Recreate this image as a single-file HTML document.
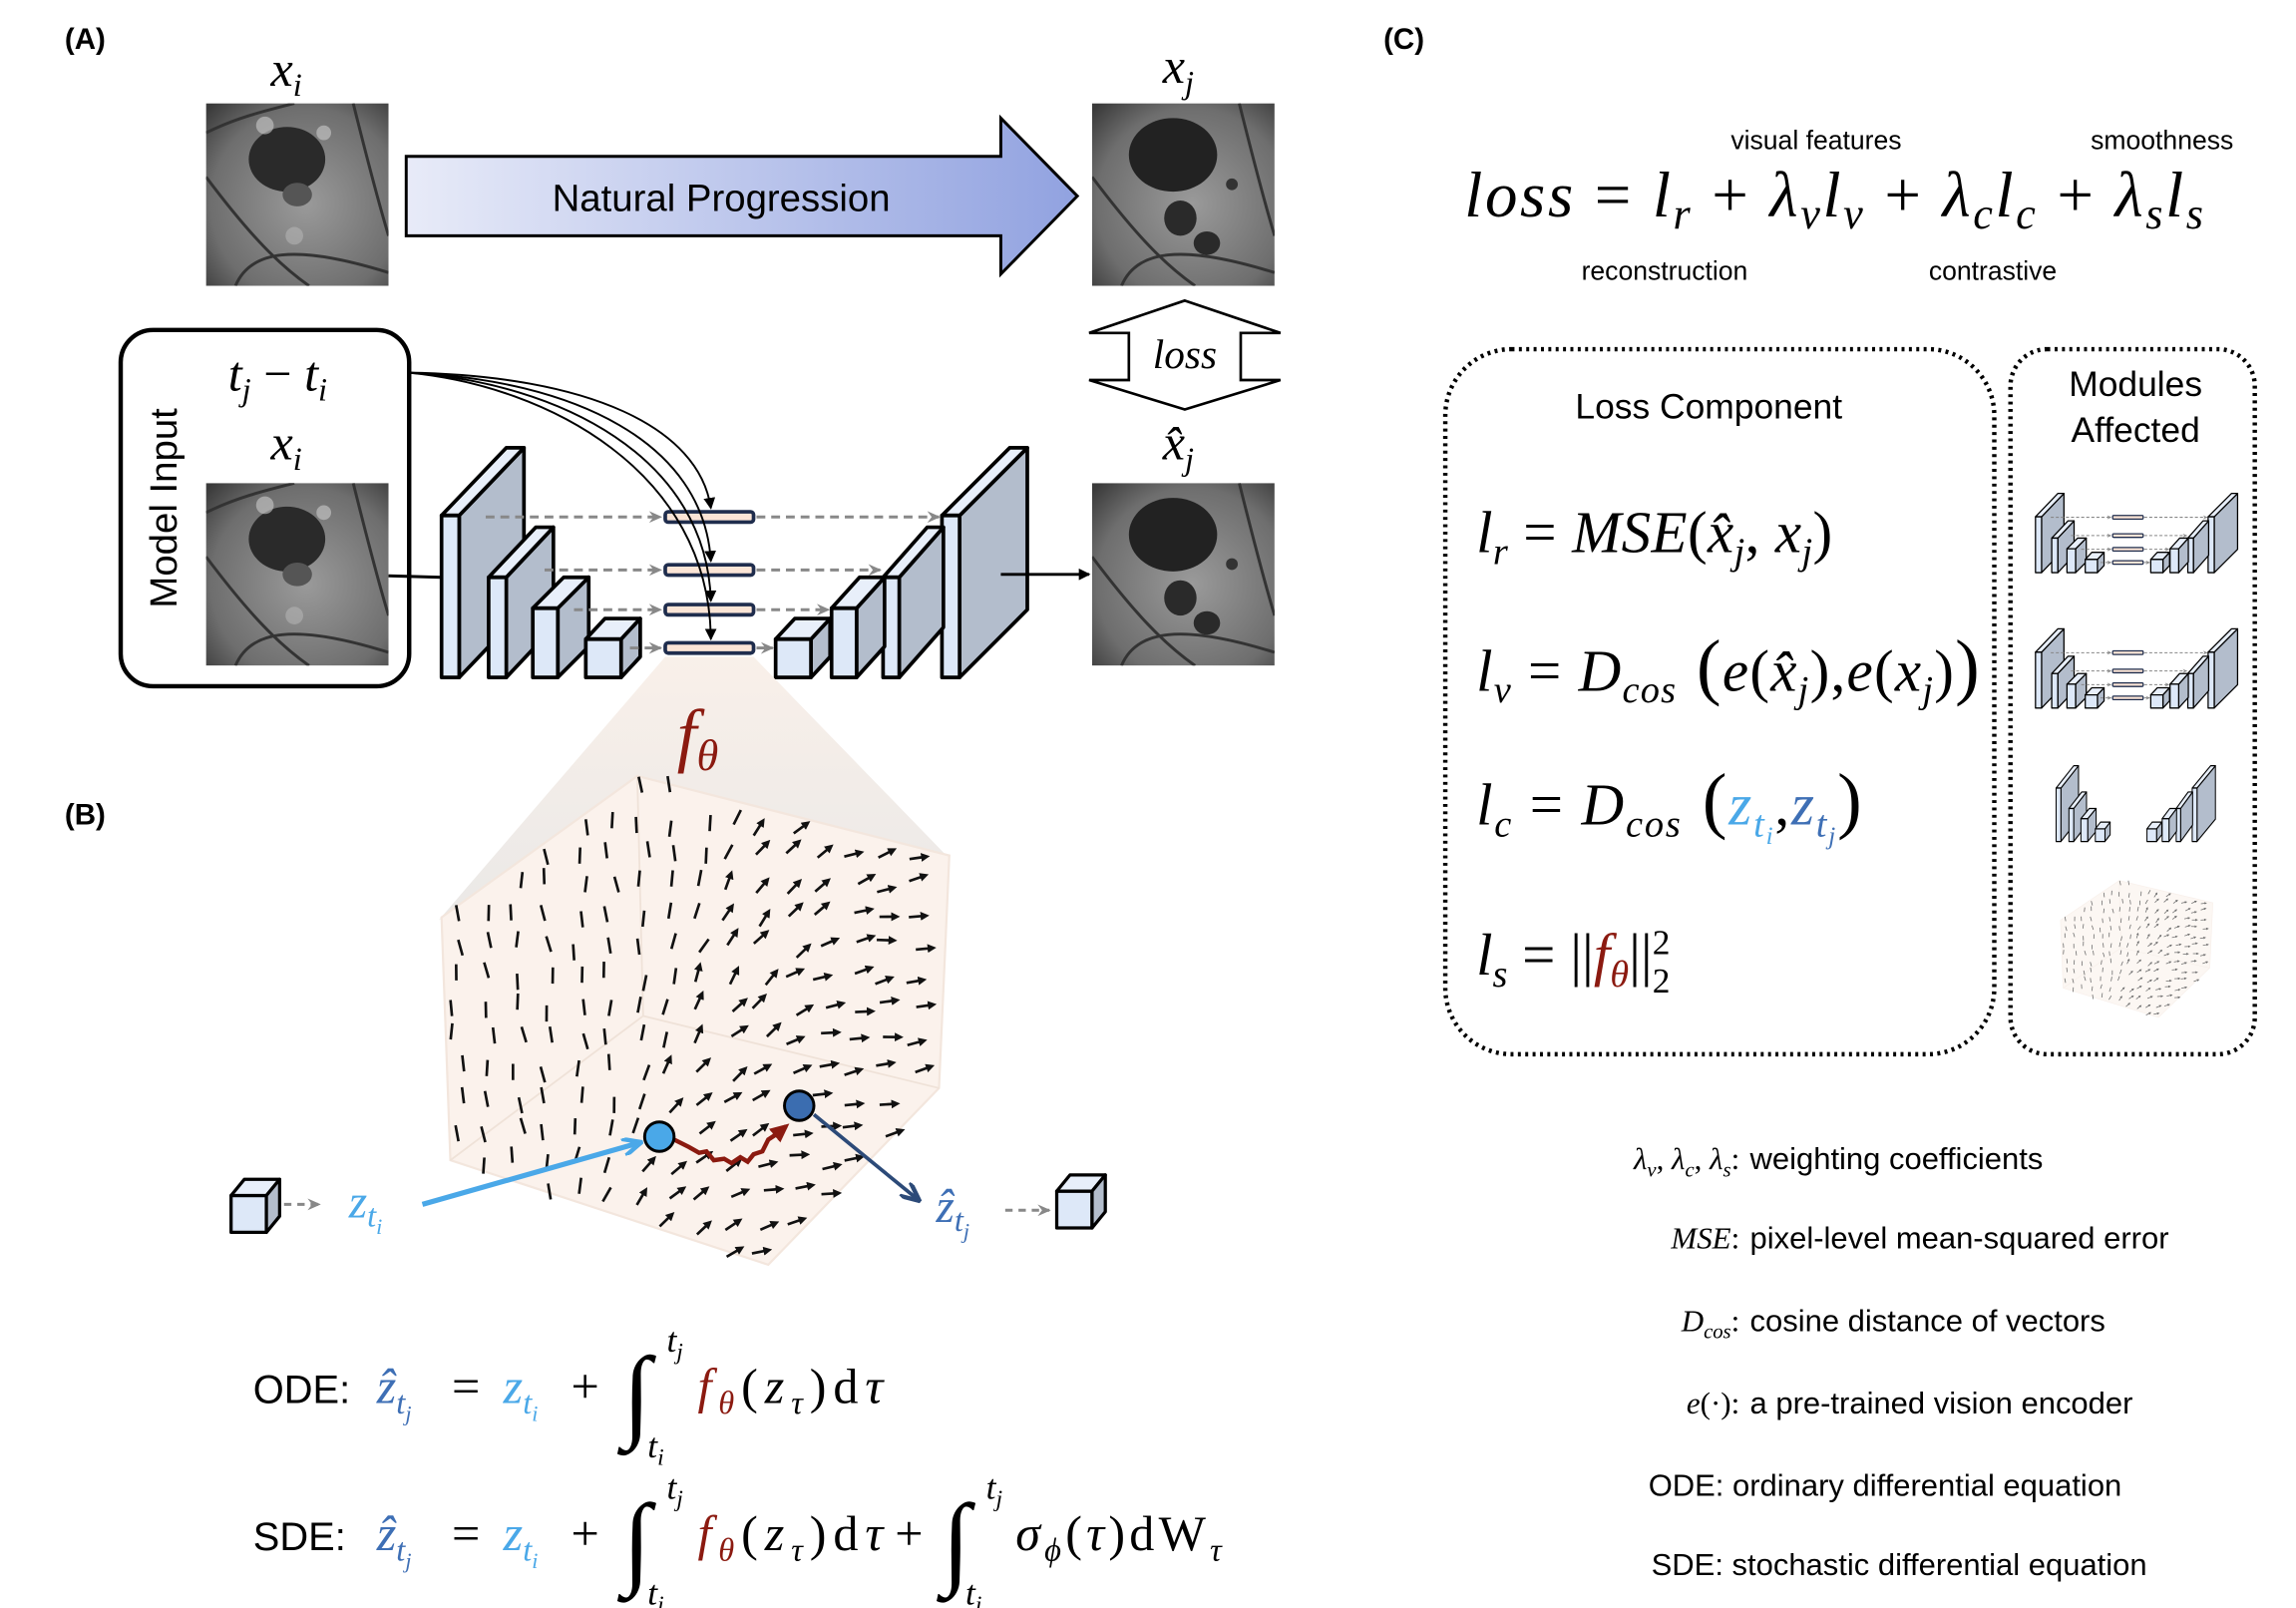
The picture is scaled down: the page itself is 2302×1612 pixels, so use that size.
<!DOCTYPE html>
<html><head><meta charset="utf-8"><style>
html,body{margin:0;padding:0;background:#fff}
svg{display:block}
.sans{font-family:"Liberation Sans",sans-serif}
.m{font-family:"Liberation Serif",serif;font-style:italic}
.r{font-family:"Liberation Serif",serif}
</style></head><body>
<svg id="s" width="2302" height="1612" viewBox="0 0 1560 1092" xmlns="http://www.w3.org/2000/svg">
<defs>
<linearGradient id="np" x1="0" x2="1"><stop offset="0" stop-color="#e8ebf8"/><stop offset="1" stop-color="#91a2e0"/></linearGradient>
<linearGradient id="proj" x1="0" y1="0" x2="0" y2="1"><stop offset="0" stop-color="#f8eee7"/><stop offset="1" stop-color="#e8e6e4"/></linearGradient>
<radialGradient id="ret" cx="0.55" cy="0.55" r="0.75"><stop offset="0" stop-color="#9a9a9a"/><stop offset="0.7" stop-color="#6e6e6e"/><stop offset="1" stop-color="#3a3a3a"/></radialGradient>
<marker id="ak" markerWidth="8" markerHeight="8" refX="7" refY="4" orient="auto" markerUnits="userSpaceOnUse"><path d="M0,0 L8,4 L0,8 z" fill="#000"/></marker>
<marker id="ag" markerWidth="9" markerHeight="8" refX="8" refY="4" orient="auto" markerUnits="userSpaceOnUse"><path d="M0,0 L9,4 L0,8 L3,4 z" fill="#888"/></marker>
<marker id="alb" markerWidth="14" markerHeight="12" refX="12" refY="6" orient="auto" markerUnits="userSpaceOnUse"><path d="M0,0 L13,6 L0,12" fill="none" stroke="#4aa8e8" stroke-width="3"/></marker>
<marker id="adb" markerWidth="14" markerHeight="12" refX="12" refY="6" orient="auto" markerUnits="userSpaceOnUse"><path d="M0,0 L13,6 L0,12" fill="none" stroke="#2c4a78" stroke-width="3"/></marker>
<marker id="ar" markerWidth="14" markerHeight="12" refX="10" refY="6" orient="auto" markerUnits="userSpaceOnUse"><path d="M0,0 L13,6 L0,12 z" fill="#8b1a10"/></marker>
<marker id="af" markerWidth="6" markerHeight="6" refX="3" refY="3" orient="auto" markerUnits="userSpaceOnUse"><path d="M0,0 L6,3 L0,6 z" fill="#111"/></marker>
<symbol id="retina" viewBox="0 0 124 124">
<rect width="124" height="124" fill="url(#ret)"/>
<ellipse cx="55" cy="38" rx="26" ry="22" fill="#2a2a2a"/>
<ellipse cx="62" cy="62" rx="10" ry="8" fill="#555"/>
<path d="M0,50 C30,90 50,110 70,124 M20,124 C30,100 60,95 124,115 M0,20 C20,10 40,5 60,0 M100,0 C110,40 118,70 124,90" stroke="#333" stroke-width="2" fill="none"/>
<circle cx="40" cy="15" r="6" fill="#ccc" opacity="0.6"/><circle cx="80" cy="20" r="5" fill="#ccc" opacity="0.6"/><circle cx="60" cy="90" r="6" fill="#bbb" opacity="0.5"/>
</symbol>
<symbol id="retina2" viewBox="0 0 124 124">
<rect width="124" height="124" fill="url(#ret)"/>
<ellipse cx="55" cy="35" rx="30" ry="25" fill="#222"/>
<ellipse cx="60" cy="78" rx="11" ry="12" fill="#2a2a2a"/><ellipse cx="78" cy="95" rx="9" ry="8" fill="#2a2a2a"/><ellipse cx="95" cy="55" rx="4" ry="4" fill="#333"/>
<path d="M0,50 C30,90 50,110 70,124 M20,124 C30,100 60,95 124,115 M100,0 C110,40 118,70 124,90" stroke="#333" stroke-width="2" fill="none"/>
</symbol>
</defs>

<!-- Panel A -->
<text x="44" y="33" class="sans" font-weight="bold" font-size="20">(A)</text>
<text x="184" y="58" class="m" font-size="34">x<tspan font-size="22" dy="7">i</tspan></text>
<use href="#retina" x="140" y="70" width="124" height="124"/>
<path d="M276,106 H680 V80 L732,133 L680,186 V160 H276 Z" fill="url(#np)" stroke="#000" stroke-width="2"/>
<text x="490" y="143" text-anchor="middle" class="sans" font-size="26">Natural Progression</text>
<text x="790" y="56" class="m" font-size="34">x<tspan font-size="22" dy="7">j</tspan></text>
<use href="#retina2" x="742" y="70" width="124" height="124"/>
<path d="M805,204 L870,226 H843 V258 H870 L805,278 L740,258 H767 V226 H740 Z" fill="#fff" stroke="#000" stroke-width="1.8"/>
<text x="805" y="250" text-anchor="middle" class="m" font-size="28">loss</text>
<text x="790" y="312" class="m" font-size="34">x̂<tspan font-size="22" dy="7">j</tspan></text>
<use href="#retina2" x="742" y="328" width="124" height="124"/>

<rect x="82" y="224" width="196" height="242" rx="22" fill="#fff" stroke="#000" stroke-width="3"/>
<text transform="translate(120,345) rotate(-90)" text-anchor="middle" class="sans" font-size="26">Model Input</text>
<text x="155" y="265" class="m" font-size="34">t<tspan font-size="22" dy="7">j</tspan><tspan dy="-7" class="r" font-style="normal"> − </tspan>t<tspan font-size="22" dy="7">i</tspan></text>
<text x="184" y="312" class="m" font-size="34">x<tspan font-size="22" dy="7">i</tspan></text>
<use href="#retina" x="140" y="328" width="124" height="124"/>
<line x1="264" y1="391" x2="300" y2="392" stroke="#000" stroke-width="2"/>

<g id="unet">
<g id="ublocks" stroke="#000" stroke-width="2.5" stroke-linejoin="round"></g>
<g id="ubars"></g>
</g>
<line x1="680" y1="390" x2="740" y2="390" stroke="#000" stroke-width="2" marker-end="url(#ak)"/>
<g fill="none" stroke="#000" stroke-width="1.3">
<path d="M278,253 C400,255 475,290 483,345" marker-end="url(#ak)"/>
<path d="M278,253 C390,258 478,300 483,381" marker-end="url(#ak)"/>
<path d="M278,253 C380,260 480,310 483,408" marker-end="url(#ak)"/>
<path d="M278,253 C372,262 482,320 483,434" marker-end="url(#ak)"/>
</g>

<!-- Panel B -->
<polygon points="452,446 512,446 645,583 433,527 298,625" fill="url(#proj)" opacity="0.9"/>
<text x="460" y="515" class="m" font-size="48" fill="#8b1a10">f<tspan font-size="30" dy="8">θ</tspan></text>
<text x="44" y="560" class="sans" font-weight="bold" font-size="20">(B)</text>
<g id="cube">
<polygon points="433,527 645,581 638,739 522,859 306,788 300,623" fill="#fbf2ec" stroke="#f3e6dd" stroke-width="1.5"/>
<path d="M433,527 L437,690 L306,788 M437,690 L638,739" stroke="#efe2d8" stroke-width="1.2" fill="none"/>
<g id="field"></g>
</g>
<line x1="287" y1="818" x2="435" y2="776" stroke="#4aa8e8" stroke-width="3.5" marker-end="url(#alb)"/>
<line x1="553" y1="757" x2="624" y2="815" stroke="#2c4a78" stroke-width="2.5" marker-end="url(#adb)"/>
<path d="M458,774 L468,779 L475,783 L480,782 L485,788 L492,787 L497,790 L503,786 L508,789 L512,784 L518,782 L522,774 L528,770 L534,765" fill="none" stroke="#8b1a10" stroke-width="3" marker-end="url(#ar)"/>
<circle cx="448" cy="772" r="10" fill="#4aa8e8" stroke="#000" stroke-width="2"/>
<circle cx="543" cy="751" r="10" fill="#3b6db0" stroke="#000" stroke-width="2"/>
<g stroke="#000" stroke-width="2.2" stroke-linejoin="round">
<polygon points="157,812 181,812 181,837 157,837" fill="#dde8f8"/><polygon points="157,812 166,801 190,801 181,812" fill="#e8effa"/><polygon points="181,812 190,801 190,826 181,837" fill="#b3bdcc"/>
<polygon points="718,809 742,809 742,834 718,834" fill="#dde8f8"/><polygon points="718,809 727,798 751,798 742,809" fill="#e8effa"/><polygon points="742,809 751,798 751,823 742,834" fill="#b3bdcc"/>
</g>
<line x1="193" y1="818" x2="217" y2="818" stroke="#888" stroke-width="2" stroke-dasharray="5,4" marker-end="url(#ag)"/>
<line x1="683" y1="822" x2="713" y2="822" stroke="#888" stroke-width="2" stroke-dasharray="5,4" marker-end="url(#ag)"/>
<text x="237" y="827" class="m" font-size="32" fill="#4aa8e8">z<tspan font-size="22" dy="6">t</tspan><tspan font-size="15" dy="5">i</tspan></text>
<text x="636" y="830" class="m" font-size="32" fill="#3e6fb5">ẑ<tspan font-size="22" dy="6">t</tspan><tspan font-size="15" dy="5">j</tspan></text>

<!-- ODE / SDE -->
<g font-size="34">
<text x="172" y="953" class="sans" font-size="27">ODE:</text>
<text x="256" y="953" class="m" fill="#3e6fb5">ẑ<tspan font-size="22" dy="7">t</tspan><tspan font-size="15" dy="5">j</tspan></text>
<text x="307" y="953" class="r">=</text>
<text x="342" y="953" class="m" fill="#4aa8e8">z<tspan font-size="22" dy="7">t</tspan><tspan font-size="15" dy="5">i</tspan></text>
<text x="388" y="953" class="r">+</text>
<text x="423" y="970" class="r" font-size="70">∫</text>
<text x="453" y="918" class="m" font-size="24">t<tspan font-size="16" dy="5">j</tspan></text>
<text x="440" y="990" class="m" font-size="24">t<tspan font-size="16" dy="5">i</tspan></text>
<text x="474" y="953" class="m" textLength="126" lengthAdjust="spacing"><tspan fill="#8b1a10">f</tspan><tspan fill="#8b1a10" font-size="22" dy="7">θ</tspan><tspan dy="-7" font-style="normal">(</tspan>z<tspan font-size="22" dy="7">τ</tspan><tspan dy="-7" font-style="normal">)d</tspan>τ</text>

<text x="172" y="1053" class="sans" font-size="27">SDE:</text>
<text x="256" y="1053" class="m" fill="#3e6fb5">ẑ<tspan font-size="22" dy="7">t</tspan><tspan font-size="15" dy="5">j</tspan></text>
<text x="307" y="1053" class="r">=</text>
<text x="342" y="1053" class="m" fill="#4aa8e8">z<tspan font-size="22" dy="7">t</tspan><tspan font-size="15" dy="5">i</tspan></text>
<text x="388" y="1053" class="r">+</text>
<text x="423" y="1070" class="r" font-size="70">∫</text>
<text x="453" y="1018" class="m" font-size="24">t<tspan font-size="16" dy="5">j</tspan></text>
<text x="440" y="1090" class="m" font-size="24">t<tspan font-size="16" dy="5">i</tspan></text>
<text x="474" y="1053" class="m" textLength="126" lengthAdjust="spacing"><tspan fill="#8b1a10">f</tspan><tspan fill="#8b1a10" font-size="22" dy="7">θ</tspan><tspan dy="-7" font-style="normal">(</tspan>z<tspan font-size="22" dy="7">τ</tspan><tspan dy="-7" font-style="normal">)d</tspan>τ</text>
<text x="608" y="1053" class="r">+</text>
<text x="640" y="1070" class="r" font-size="70">∫</text>
<text x="670" y="1018" class="m" font-size="24">t<tspan font-size="16" dy="5">j</tspan></text>
<text x="656" y="1090" class="m" font-size="24">t<tspan font-size="16" dy="5">i</tspan></text>
<text x="690" y="1053" class="m" textLength="140" lengthAdjust="spacing">σ<tspan font-size="22" dy="7">ϕ</tspan><tspan dy="-7" font-style="normal">(</tspan>τ<tspan font-style="normal">)dW</tspan><tspan font-size="22" dy="7">τ</tspan></text>
</g>

<!-- Panel C -->
<text x="940" y="33" class="sans" font-weight="bold" font-size="20">(C)</text>
<text x="1234" y="101" text-anchor="middle" class="sans" font-size="18">visual features</text>
<text x="1469" y="101" text-anchor="middle" class="sans" font-size="18">smoothness</text>
<text x="1131" y="190" text-anchor="middle" class="sans" font-size="18">reconstruction</text>
<text x="1354" y="190" text-anchor="middle" class="sans" font-size="18">contrastive</text>
<text x="995" y="147" class="m" font-size="44" textLength="502" lengthAdjust="spacing">loss<tspan font-style="normal"> = </tspan>l<tspan font-size="30" dy="8">r</tspan><tspan dy="-8" font-style="normal"> + </tspan>λ<tspan font-size="30" dy="8">v</tspan><tspan dy="-8">l</tspan><tspan font-size="30" dy="8">v</tspan><tspan dy="-8" font-style="normal"> + </tspan>λ<tspan font-size="30" dy="8">c</tspan><tspan dy="-8">l</tspan><tspan font-size="30" dy="8">c</tspan><tspan dy="-8" font-style="normal"> + </tspan>λ<tspan font-size="30" dy="8">s</tspan><tspan dy="-8">l</tspan><tspan font-size="30" dy="8">s</tspan></text>

<rect x="982" y="237" width="373" height="479" rx="45" fill="none" stroke="#000" stroke-width="3" stroke-dasharray="2,3"/>
<rect x="1366" y="237" width="166" height="479" rx="25" fill="none" stroke="#000" stroke-width="3" stroke-dasharray="2,3"/>
<text x="1161" y="284" text-anchor="middle" class="sans" font-size="24">Loss Component</text>
<text x="1451" y="269" text-anchor="middle" class="sans" font-size="24">Modules</text>
<text x="1451" y="300" text-anchor="middle" class="sans" font-size="24">Affected</text>

<g font-size="40">
<text x="1003" y="375" class="m" textLength="242" lengthAdjust="spacing">l<tspan font-size="26" dy="8">r</tspan><tspan dy="-8" font-style="normal"> = </tspan>MSE<tspan font-style="normal">(</tspan>x̂<tspan font-size="26" dy="8">j</tspan><tspan dy="-8" font-style="normal">, </tspan>x<tspan font-size="26" dy="8">j</tspan><tspan dy="-8" font-style="normal">)</tspan></text>
<text x="1003" y="469" class="m" textLength="342" lengthAdjust="spacing">l<tspan font-size="26" dy="8">v</tspan><tspan dy="-8" font-style="normal"> = </tspan>D<tspan font-size="26" dy="8">cos</tspan><tspan dy="-8" font-style="normal" font-size="50"> (</tspan>e<tspan font-style="normal">(</tspan>x̂<tspan font-size="26" dy="8">j</tspan><tspan dy="-8" font-style="normal">),</tspan>e<tspan font-style="normal">(</tspan>x<tspan font-size="26" dy="8">j</tspan><tspan dy="-8" font-style="normal">)</tspan><tspan font-style="normal" font-size="50">)</tspan></text>
<text x="1003" y="560" class="m" textLength="262" lengthAdjust="spacing">l<tspan font-size="26" dy="8">c</tspan><tspan dy="-8" font-style="normal"> = </tspan>D<tspan font-size="26" dy="8">cos</tspan><tspan dy="-8" font-style="normal" font-size="50"> (</tspan><tspan fill="#4aa8e8">z</tspan><tspan fill="#4aa8e8" font-size="26" dy="8">t</tspan><tspan fill="#4aa8e8" font-size="17" dy="5">i</tspan><tspan dy="-13" font-style="normal">,</tspan><tspan fill="#3e6fb5">z</tspan><tspan fill="#3e6fb5" font-size="26" dy="8">t</tspan><tspan fill="#3e6fb5" font-size="17" dy="5">j</tspan><tspan dy="-13" font-style="normal" font-size="50">)</tspan></text>
<text x="1003" y="662" class="m">l<tspan font-size="26" dy="8">s</tspan><tspan dy="-8" font-style="normal"> = ||</tspan><tspan fill="#8b1a10">f</tspan><tspan fill="#8b1a10" font-size="26" dy="8">θ</tspan><tspan dy="-8" font-style="normal">||</tspan><tspan font-style="normal" font-size="24" dy="-14">2</tspan><tspan font-style="normal" font-size="24" dx="-12" dy="26">2</tspan></text>
</g>

<use href="#unet" transform="translate(1383,335) scale(0.345) translate(-300,-304)"/>
<use href="#unet" transform="translate(1383,427) scale(0.345) translate(-300,-304)"/>
<use href="#ublocks" transform="translate(1397,520) scale(0.272 0.33) translate(-300,-304)"/>
<use href="#cube" transform="translate(1400,598) scale(0.3 0.28) translate(-300,-527)" opacity="0.6"/>

<g class="sans" font-size="21">
<text x="1182" y="794" text-anchor="end" class="m" font-size="21">λ<tspan font-size="14" dy="5">v</tspan><tspan dy="-5" font-style="normal">, </tspan>λ<tspan font-size="14" dy="5">c</tspan><tspan dy="-5" font-style="normal">, </tspan>λ<tspan font-size="14" dy="5">s</tspan><tspan dy="-5" font-style="normal">:</tspan></text>
<text x="1189" y="794">weighting coefficients</text>
<text x="1182" y="848" text-anchor="end" class="m" font-size="21">MSE<tspan font-style="normal">:</tspan></text>
<text x="1189" y="848">pixel-level mean-squared error</text>
<text x="1182" y="904" text-anchor="end" class="m" font-size="21">D<tspan font-size="14" dy="5">cos</tspan><tspan dy="-5" font-style="normal">:</tspan></text>
<text x="1189" y="904">cosine distance of vectors</text>
<text x="1182" y="960" text-anchor="end" class="m" font-size="21">e<tspan font-style="normal">(·):</tspan></text>
<text x="1189" y="960">a pre-trained vision encoder</text>
<text x="1120" y="1016">ODE: ordinary differential equation</text>
<text x="1122" y="1070">SDE: stochastic differential equation</text>
</g>
</svg>
<script>
(function(){
var NS="http://www.w3.org/2000/svg";
function el(p,t,a){var e=document.createElementNS(NS,t);for(var k in a)e.setAttribute(k,a[k]);p.appendChild(e);return e;}
var g=document.getElementById('ublocks');
function block(x,y,w,h,dx,dy){
 el(g,'polygon',{points:[x+w,y,x+w+dx,y-dy,x+w+dx,y-dy+h,x+w,y+h].join(','),fill:'#b3bdcc'});
 el(g,'polygon',{points:[x,y,x+dx,y-dy,x+w+dx,y-dy,x+w,y].join(','),fill:'#e8effa'});
 el(g,'rect',{x:x,y:y,width:w,height:h,fill:'#dde8f8'});
}
block(300,350,12,110,44,46);
block(332,392,12,68,32,34);
block(362,413,17,47,21,21);
block(398,434,24,26,13,14);
block(640,350,12,110,46,46);
block(600,392,11,68,30,34);
block(565,413,17,47,19,21);
block(527,434,24,26,13,14);
var b=document.getElementById('ubars');
var ys=[351,387,414,440],l1=[330,370,390,428],r1=[640,600,565,527];
for(var i=0;i<4;i++){
 el(b,'line',{x1:l1[i],y1:ys[i],x2:449,y2:ys[i],stroke:'#888','stroke-width':2,'stroke-dasharray':'6,4','marker-end':'url(#ag)'});
 el(b,'line',{x1:514,y1:ys[i],x2:r1[i]-2,y2:ys[i],stroke:'#888','stroke-width':2,'stroke-dasharray':'6,4','marker-end':'url(#ag)'});
 el(b,'rect',{x:452,y:ys[i]-3.5,width:60,height:7,rx:2,fill:'#fbe5d6',stroke:'#1f2d4d','stroke-width':2.5});
}
var f=document.getElementById('field');
var P=[[433,527],[645,581],[638,739],[522,859],[306,788],[300,623]];
function inside(x,y){var c=false;for(var i=0,j=P.length-1;i<P.length;j=i++){var xi=P[i][0],yi=P[i][1],xj=P[j][0],yj=P[j][1];if(((yi>y)!=(yj>y))&&(x<(xj-xi)*(y-yi)/(yj-yi)+xi))c=!c;}return c;}
var s=7;function rnd(){s=(s*9301+49297)%233280;return s/233280;}
for(var x=310;x<645;x+=21){for(var y=537;y<860;y+=21){
 var px=x+(rnd()-0.5)*10,py=y+(rnd()-0.5)*10;
 if(!inside(px,py))continue;
 if(Math.hypot(px-448,py-772)<14||Math.hypot(px-543,py-751)<14)continue;
 var t=Math.max(0,Math.min(1,(px-400)/170+(py-700)/500));
 var a=(-95+t*85+(rnd()-0.5)*25)*Math.PI/180;
 var L=11,cx=Math.cos(a)*L/2,cy=Math.sin(a)*L/2;
 var at={x1:px-cx,y1:py-cy,x2:px+cx,y2:py+cy,stroke:'#111','stroke-width':1.8};
 if(t>0.35)at['marker-end']='url(#af)';
 el(f,'line',at);
}}
})();
</script>
</body></html>
